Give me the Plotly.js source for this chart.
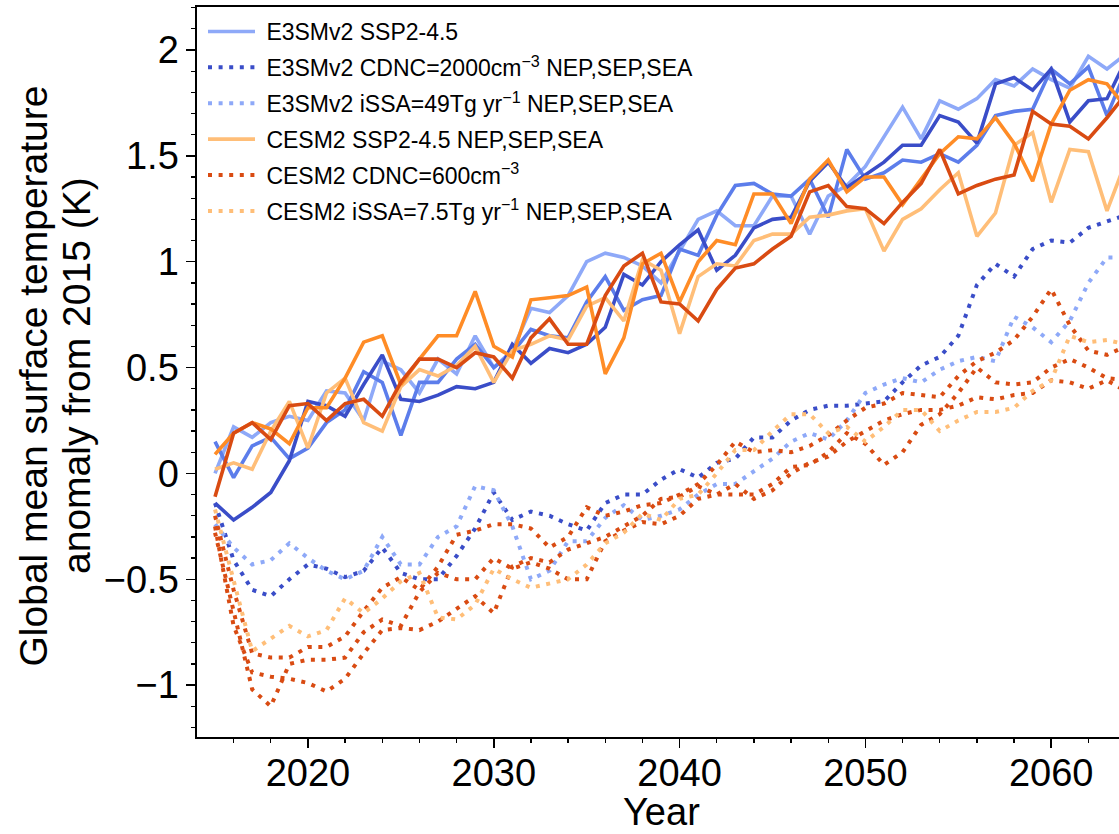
<!DOCTYPE html>
<html>
<head>
<meta charset="utf-8">
<script src="https://cdn.plot.ly/plotly-3.0.1.min.js"></script>
<style>
html,body{margin:0;padding:0;overflow:hidden;background:#fff;}
#chart{width:1125px;height:834px;}
</style>
</head>
<body>
<div id="chart"></div>
<script>
// ---------- data ----------
const years = [2015,2016,2017,2018,2019,2020,2021,2022,2023,2024,2025,2026,2027,2028,2029,2030,2031,2032,2033,2034,2035,2036,2037,2038,2039,2040,2041,2042,2043,2044,2045,2046,2047,2048,2049,2050,2051,2052,2053,2054,2055,2056,2057,2058,2059,2060,2061,2062,2063,2064];

// E3SMv2 SSP2-4.5 (three members)
const e3smSsp1 = [0.00,0.22,0.17,0.24,0.27,0.25,0.39,0.38,0.25,0.53,0.49,0.38,0.54,0.47,0.65,0.50,0.58,0.78,0.76,0.84,1.00,1.04,1.02,0.98,0.90,1.05,1.20,1.24,1.17,1.17,1.31,1.31,1.13,1.31,1.36,1.45,1.59,1.73,1.58,1.76,1.72,1.77,1.86,1.83,1.91,1.86,1.82,1.97,1.91,1.98];
const e3smSsp2 = [0.15,-0.02,0.13,0.17,0.07,0.12,0.24,0.30,0.48,0.43,0.18,0.43,0.43,0.54,0.61,0.50,0.57,0.68,0.65,0.64,0.81,0.93,0.77,0.82,0.84,1.06,1.03,1.22,1.36,1.37,1.32,1.31,1.39,1.21,1.53,1.39,1.42,1.48,1.47,1.51,1.47,1.55,1.69,1.71,1.72,1.91,1.84,1.92,1.69,1.90];
const e3smSsp3 = [-0.14,-0.22,-0.16,-0.09,0.06,0.34,0.32,0.27,0.42,0.56,0.35,0.34,0.37,0.41,0.40,0.43,0.61,0.52,0.59,0.57,0.61,0.69,0.94,0.89,1.00,1.08,1.15,0.96,1.03,1.16,1.20,1.21,1.38,1.47,1.35,1.41,1.47,1.55,1.55,1.69,1.66,1.56,1.84,1.87,1.81,1.91,1.66,1.76,1.77,1.95];
// E3SMv2 CDNC=2000 cm-3
const e3smCdnc = [-0.14,-0.41,-0.55,-0.58,-0.50,-0.43,-0.45,-0.49,-0.46,-0.35,-0.47,-0.50,-0.50,-0.39,-0.26,-0.09,-0.22,-0.18,-0.20,-0.24,-0.27,-0.14,-0.10,-0.10,-0.03,0.02,-0.02,0.05,0.07,0.17,0.17,0.25,0.30,0.32,0.32,0.33,0.34,0.43,0.51,0.55,0.65,0.89,0.99,0.93,1.06,1.10,1.09,1.16,1.19,1.22];
// E3SMv2 iSSA=49 Tg/yr
const e3smIssa = [-0.24,-0.35,-0.43,-0.41,-0.33,-0.40,-0.46,-0.50,-0.46,-0.30,-0.43,-0.43,-0.30,-0.25,-0.06,-0.08,-0.25,-0.50,-0.46,-0.32,-0.32,-0.21,-0.15,-0.22,-0.20,-0.17,-0.10,-0.05,-0.05,0.01,0.07,0.15,0.19,0.16,0.25,0.38,0.42,0.45,0.43,0.49,0.53,0.55,0.53,0.74,0.69,0.62,0.72,0.90,1.02,1.02];
// CESM2 SSP2-4.5 (three members)
const cesmSsp1 = [0.02,0.05,0.02,0.20,0.34,0.12,0.38,0.45,0.24,0.20,0.41,0.49,0.46,0.51,0.60,0.43,0.58,0.61,0.65,0.63,0.79,0.83,0.72,1.01,0.96,0.66,0.93,0.99,0.98,1.10,1.13,1.13,1.21,1.22,1.24,1.25,1.05,1.20,1.25,1.34,1.42,1.12,1.23,1.55,1.61,1.28,1.53,1.52,1.24,1.47];
const cesmSsp2 = [0.09,0.19,0.24,0.21,0.14,0.31,0.31,0.45,0.62,0.65,0.42,0.54,0.65,0.65,0.86,0.60,0.55,0.82,0.83,0.84,0.88,0.47,0.64,0.99,1.04,0.81,1.00,1.10,1.08,1.32,1.32,1.18,1.39,1.48,1.33,1.40,1.40,1.27,1.39,1.51,1.59,1.58,1.68,1.56,1.38,1.65,1.81,1.86,1.84,1.73];
const cesmSsp3 = [-0.11,0.19,0.24,0.16,0.32,0.33,0.25,0.33,0.35,0.27,0.43,0.54,0.54,0.50,0.57,0.55,0.45,0.64,0.73,0.61,0.61,0.84,0.98,1.04,0.81,0.80,0.72,0.87,0.97,0.99,1.06,1.12,1.33,1.36,1.26,1.25,1.18,1.28,1.37,1.53,1.32,1.36,1.39,1.41,1.71,1.65,1.64,1.58,1.68,1.79];
// CESM2 CDNC=600 cm-3 (three members)
const cesmCdnc1 = [-0.20,-0.55,-0.85,-0.87,-0.87,-0.82,-0.82,-0.77,-0.65,-0.54,-0.49,-0.55,-0.44,-0.29,-0.27,-0.24,-0.24,-0.26,-0.35,-0.30,-0.16,-0.20,-0.18,-0.15,-0.14,-0.10,-0.05,0.04,0.15,0.10,0.11,0.10,0.13,0.18,0.25,0.31,0.33,0.38,0.37,0.36,0.46,0.53,0.57,0.63,0.74,0.87,0.70,0.58,0.56,0.60];
const cesmCdnc2 = [-0.28,-0.65,-1.02,-1.10,-0.90,-0.88,-0.88,-0.87,-0.75,-0.69,-0.72,-0.56,-0.47,-0.50,-0.50,-0.40,-0.45,-0.42,-0.45,-0.50,-0.50,-0.32,-0.27,-0.23,-0.24,-0.20,-0.12,-0.10,-0.10,-0.10,-0.05,0.03,0.04,0.10,0.19,0.14,0.04,0.10,0.23,0.28,0.38,0.50,0.43,0.42,0.43,0.50,0.54,0.50,0.45,0.44];
const cesmCdnc3 = [-0.25,-0.72,-0.94,-0.96,-0.97,-0.99,-1.03,-0.97,-0.85,-0.74,-0.73,-0.74,-0.70,-0.64,-0.58,-0.66,-0.44,-0.40,-0.42,-0.36,-0.33,-0.30,-0.25,-0.20,-0.12,-0.11,-0.06,-0.10,-0.05,-0.12,-0.08,0.00,0.05,0.08,0.15,0.20,0.25,0.28,0.30,0.30,0.32,0.36,0.35,0.37,0.38,0.44,0.43,0.40,0.44,0.39];
// CESM2 iSSA=7.5 Tg/yr
const cesmIssa = [-0.17,-0.50,-0.84,-0.78,-0.72,-0.77,-0.74,-0.59,-0.66,-0.59,-0.51,-0.47,-0.68,-0.69,-0.62,-0.45,-0.50,-0.54,-0.52,-0.50,-0.43,-0.33,-0.28,-0.19,-0.22,-0.12,-0.10,0.00,0.11,0.11,0.20,0.28,0.28,0.19,0.22,0.15,0.22,0.30,0.30,0.20,0.25,0.29,0.29,0.31,0.39,0.44,0.65,0.62,0.63,0.61];

const legendNames = [
  'E3SMv2 SSP2-4.5',
  'E3SMv2 CDNC=2000cm<sup>−3</sup> NEP,SEP,SEA',
  'E3SMv2 iSSA=49Tg yr<sup>−1</sup> NEP,SEP,SEA',
  'CESM2 SSP2-4.5 NEP,SEP,SEA',
  'CESM2 CDNC=600cm<sup>−3</sup>',
  'CESM2 iSSA=7.5Tg yr<sup>−1</sup> NEP,SEP,SEA'
];
const xTickVals = [2020,2030,2040,2050,2060];
const yTitleLines = ['Global mean surface temperature', 'anomaly from 2015 (K)'];
const xTitle = 'Year';

// ---------- styles ----------
const C = {
  blueLight:'#8ea9f8', blueMid:'#5c7deb', blueDark:'#3a4dc8',
  orLight:'#ffbe78', orMid:'#ff8c26', orDark:'#d94b12'
};
const SOLID_W = 3.6, DOT_W = 4;
const DOT = '4px,6.6px';

function tr(y, color, dotted, group, name, show, rank){
  return {
    x: years, y: y, type:'scatter', mode:'lines',
    line:{color:color, width: dotted?DOT_W:SOLID_W, dash: dotted?DOT:'solid'},
    legendgroup: group, name: '\u00a0' + name, showlegend: show, legendrank: rank,
    hoverinfo:'skip'
  };
}

const traces = [
  tr(e3smSsp1, C.blueLight, false, 'g1', legendNames[0], true, 1),
  tr(e3smSsp2, C.blueMid,   false, 'g1', legendNames[0], false, 1),
  tr(e3smSsp3, C.blueDark,  false, 'g1', legendNames[0], false, 1),
  tr(e3smCdnc, C.blueDark,  true,  'g2', legendNames[1], true, 2),
  tr(e3smIssa, C.blueLight, true,  'g3', legendNames[2], true, 3),
  tr(cesmSsp1, C.orLight,   false, 'g4', legendNames[3], true, 4),
  tr(cesmSsp2, C.orMid,     false, 'g4', legendNames[3], false, 4),
  tr(cesmSsp3, C.orDark,    false, 'g4', legendNames[3], false, 4),
  tr(cesmCdnc1, C.orDark,   true,  'g5', legendNames[4], true, 5),
  tr(cesmCdnc2, C.orDark,   true,  'g5', legendNames[4], false, 5),
  tr(cesmCdnc3, C.orDark,   true,  'g5', legendNames[4], false, 5),
  tr(cesmIssa, C.orLight,   true,  'g6', legendNames[5], true, 6)
];

const FONT = 'Liberation Sans, Arial, Helvetica, sans-serif';
const W = 1125, H = 834;
const ML = 197, MT = 7, MB = 97, MR = 0;
const plotW = W-ML-MR, plotH = H-MT-MB;
const yTitleY = (H-MB-376)/plotH;

const layout = {
  width: W, height: H,
  margin:{l:ML, r:MR, t:MT, b:MB, pad:0},
  paper_bgcolor:'#fff', plot_bgcolor:'#fff',
  font:{family:FONT, color:'#000'},
  showlegend:true,
  legend:{
    x: 6/plotW, y: 1 - 3/plotH, xanchor:'left', yanchor:'top',
    bgcolor:'rgba(0,0,0,0)', borderwidth:0,
    font:{family:FONT, size:23, color:'#000'},
    traceorder:'grouped', tracegroupgap:3, itemwidth:47
  },
  xaxis:{
    range:[2014.03, 2063.97], showgrid:false, zeroline:false,
    showline:true, linecolor:'#000', linewidth:1.6, mirror:true,
    ticks:'outside', ticklen:9, tickwidth:1.5, tickcolor:'#000',
    tickmode:'array', tickvals: xTickVals, ticklabelstandoff:-7,
    tickfont:{family:FONT, size:38, color:'#000'},
    minor:{dtick:2, tick0:2014, ticks:'outside', ticklen:4.5, tickwidth:1.3, tickcolor:'#000', showgrid:false}
  },
  yaxis:{
    range:[-1.245, 2.203], showgrid:false, zeroline:false,
    showline:true, linecolor:'#000', linewidth:1.6, mirror:true,
    ticks:'outside', ticklen:9, tickwidth:1.5, tickcolor:'#000',
    dtick:0.5, tick0:0,
    tickfont:{family:FONT, size:38, color:'#000'},
    minor:{dtick:0.1, ticks:'outside', ticklen:4.5, tickwidth:1.3, tickcolor:'#000', showgrid:false}
  },
  annotations:[
    {text:yTitleLines[0], xref:'paper', yref:'paper', x:0, y:yTitleY,
     xshift: 32.5-ML, xanchor:'center', yanchor:'middle', textangle:-90, showarrow:false,
     font:{family:FONT, size:39, color:'#000'}},
    {text:yTitleLines[1], xref:'paper', yref:'paper', x:0, y:yTitleY,
     xshift: 76-ML, xanchor:'center', yanchor:'middle', textangle:-90, showarrow:false,
     font:{family:FONT, size:39, color:'#000'}},
    {text:xTitle, xref:'paper', yref:'paper', x:(661.7-ML)/plotW, y:0, yshift:-97,
     xanchor:'center', yanchor:'bottom', showarrow:false, borderpad:0,
     font:{family:FONT, size:38, color:'#000'}}
  ]
};

Plotly.newPlot('chart', traces, layout, {displayModeBar:false, staticPlot:true});
</script>
</body>
</html>
